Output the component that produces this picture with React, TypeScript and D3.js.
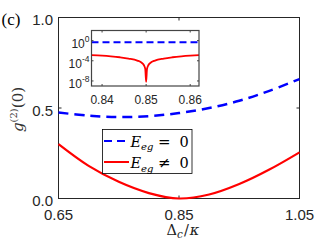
import React from "react";
import * as d3 from "d3";

// main panel: g2(0) against detuning
const detuning = [0.65, 0.7, 0.75, 0.8, 0.85, 0.9, 0.95, 1.0, 1.05];
const g2Zero = [0.475, 0.458, 0.45, 0.455, 0.472, 0.5, 0.54, 0.595, 0.66];
const g2NonZero = [0.3, 0.18, 0.092, 0.03, 0.0, 0.022, 0.08, 0.16, 0.255];

// inset (log scale) around the minimum
const insetZeroDetuning = [0.8376, 0.845, 0.855, 0.862];
const insetZero = [0.469, 0.471, 0.474, 0.477];
const insetDetuning = [
  0.8376, 0.84, 0.842, 0.844, 0.846, 0.848, 0.849, 0.8495, 0.8498, 0.85,
  0.8502, 0.8505, 0.851, 0.852, 0.854, 0.856, 0.858, 0.86, 0.862,
];
const insetNonZero = [
  1.35e-3, 1.05e-3, 7.6e-4, 5.0e-4, 2.8e-4, 1.1e-4, 4.0e-5, 1.3e-5, 2.5e-6,
  6.3e-9, 2.5e-6, 1.3e-5, 4.0e-5, 1.1e-4, 2.8e-4, 5.0e-4, 7.6e-4, 1.05e-3,
  1.35e-3,
];

const xTicks = [0.65, 0.85, 1.05];
const yTicks = [0, 0.5, 1];
const insetXTicks = [0.84, 0.85, 0.86];
const insetYExps = [0, -4, -8];

const sans = "'Liberation Sans', Arial, sans-serif";
const tex = "'DejaVu Serif', serif";
const axisColor = "#262626";

const App = () => {
  // Main axes
  const x = d3.scaleLinear().domain([0.65, 1.05]).range([58.5, 299.5]);
  const y = d3.scaleLinear().domain([0, 1]).range([198.5, 17.5]);

  // Inset axes
  const ix = d3.scaleLinear().domain([0.8376, 0.862]).range([91.5, 199]);
  const iy = d3.scaleLog().domain([1e-9, 1e2]).range([86, 30.5]);

  const mainLine = d3
    .line<number>()
    .x((d, i) => x(detuning[i]))
    .y((d) => y(d))
    .curve(d3.curveCatmullRom.alpha(0.5));

  const insetBlue = d3
    .line<number>()
    .x((d, i) => ix(insetZeroDetuning[i]))
    .y((d) => iy(d))
    .curve(d3.curveMonotoneX);

  const insetRed = d3
    .line<number>()
    .x((d, i) => ix(insetDetuning[i]))
    .y((d) => iy(d))
    .curve(d3.curveMonotoneX);

  const [x0, x1] = x.range();
  const [y0, y1] = y.range();
  const [ix0, ix1] = ix.range();
  const [iy0, iy1] = iy.range();

  return (
    <svg
      width={332}
      height={249}
      style={{ position: "absolute", left: 0, top: 0, background: "#fff" }}
    >
      <text x={1.5} y={24.5} fontFamily="'Liberation Serif', serif" fontSize={17}>
        (c)
      </text>

      {/* main frame */}
      <rect
        x={x0}
        y={y1}
        width={x1 - x0}
        height={y0 - y1}
        fill="#fff"
        stroke={axisColor}
        strokeWidth={1}
      />
      {xTicks.map((t) => (
        <g key={"xt" + t}>
          <line x1={x(t)} x2={x(t)} y1={y0} y2={y0 - 3} stroke={axisColor} />
          <line x1={x(t)} x2={x(t)} y1={y1} y2={y1 + 3} stroke={axisColor} />
          <text
            x={x(t)}
            y={y0 + 21.5}
            textAnchor="middle"
            fontFamily={sans}
            fontSize={15}
            fill={axisColor}
          >
            {t.toFixed(2)}
          </text>
        </g>
      ))}
      {yTicks.map((t) => (
        <g key={"yt" + t}>
          <line x1={x0} x2={x0 + 3} y1={y(t)} y2={y(t)} stroke={axisColor} />
          <line x1={x1} x2={x1 - 3} y1={y(t)} y2={y(t)} stroke={axisColor} />
          <text
            x={53}
            y={y(t) + 7.5}
            textAnchor="end"
            fontFamily={sans}
            fontSize={15}
            fill={axisColor}
          >
            {t.toFixed(1)}
          </text>
        </g>
      ))}

      <path
        d={mainLine(g2Zero) || ""}
        fill="none"
        stroke="#0000ff"
        strokeWidth={2.5}
        strokeDasharray="10,6"
      />
      <path d={mainLine(g2NonZero) || ""} fill="none" stroke="#ff0000" strokeWidth={2.2} />

      {/* axis labels */}
      <text transform="translate(23,132) rotate(-90)" fontFamily={tex} fill="#333">
        <tspan fontSize={15} fontStyle="italic">g</tspan>
        <tspan fontSize={10} dy={-6}>(2)</tspan>
        <tspan fontSize={15} dy={6}>(0)</tspan>
      </text>
      <text x={166.5} y={235} fontFamily={tex} fill="#222">
        <tspan fontSize={14.5}>Δ</tspan>
        <tspan fontSize={10.5} fontStyle="italic" dy={3}>c</tspan>
        <tspan fontSize={14.5} dy={-3} dx={1}>/</tspan>
        <tspan fontSize={14.5} fontStyle="italic" dx={1}>κ</tspan>
      </text>

      {/* legend */}
      <rect x={102.5} y={129.5} width={89.5} height={44} fill="#fff" stroke="#000" strokeWidth={0.8} />
      <line x1={104} x2={129} y1={141} y2={141} stroke="#0000ff" strokeWidth={2} strokeDasharray="8,5" />
      <line x1={104} x2={129} y1={162} y2={162} stroke="#ff0000" strokeWidth={2} />
      {["=", "≠"].map((op, i) => (
        <text key={op} y={146.5 + i * 21.5} fontFamily={tex} fill="#000">
          <tspan x={130.5} fontSize={14.5} fontStyle="italic">E</tspan>
          <tspan x={141} fontSize={10} fontStyle="italic" dy={3.5}>eg</tspan>
          <tspan x={158} fontSize={15} dy={-3.5}>{op}</tspan>
          <tspan x={179.5} fontSize={14.5}>0</tspan>
        </text>
      ))}

      {/* inset */}
      <defs>
        <clipPath id="insetClip">
          <rect x={ix0} y={iy1} width={ix1 - ix0} height={iy0 - iy1} />
        </clipPath>
      </defs>
      <rect x={ix0} y={iy1} width={ix1 - ix0} height={iy0 - iy1} fill="#fff" />
      <g clipPath="url(#insetClip)">
        <path
          d={insetBlue(insetZero) || ""}
          fill="none"
          stroke="#0000ff"
          strokeWidth={2}
          strokeDasharray="7,4"
        />
        <path d={insetRed(insetNonZero) || ""} fill="none" stroke="#ff0000" strokeWidth={1.8} />
      </g>
      <rect
        x={ix0}
        y={iy1}
        width={ix1 - ix0}
        height={iy0 - iy1}
        fill="none"
        stroke="#444"
        strokeWidth={1.2}
      />
      {insetXTicks.map((t) => (
        <g key={"ixt" + t}>
          <line x1={ix(t)} x2={ix(t)} y1={iy0} y2={iy0 - 2} stroke="#444" />
          <line x1={ix(t)} x2={ix(t)} y1={iy1} y2={iy1 + 2} stroke="#444" />
          <text
            x={ix(t)}
            y={iy0 + 18}
            textAnchor="middle"
            fontFamily={sans}
            fontSize={12}
            fill={axisColor}
          >
            {t.toFixed(2)}
          </text>
        </g>
      ))}
      {insetYExps.map((e) => (
        <g key={"iyt" + e}>
          <line x1={ix0} x2={ix0 + 2} y1={iy(10 ** e)} y2={iy(10 ** e)} stroke="#444" />
          <line x1={ix1} x2={ix1 - 2} y1={iy(10 ** e)} y2={iy(10 ** e)} stroke="#444" />
          <text
            x={89.5}
            y={iy(10 ** e) + 7}
            textAnchor="end"
            fontFamily={sans}
            fontSize={12}
            fill={axisColor}
          >
            10
            <tspan fontSize={8.5} dy={-6}>
              {e === 0 ? "0" : "-" + Math.abs(e)}
            </tspan>
          </text>
        </g>
      ))}
    </svg>
  );
};

export default App;
